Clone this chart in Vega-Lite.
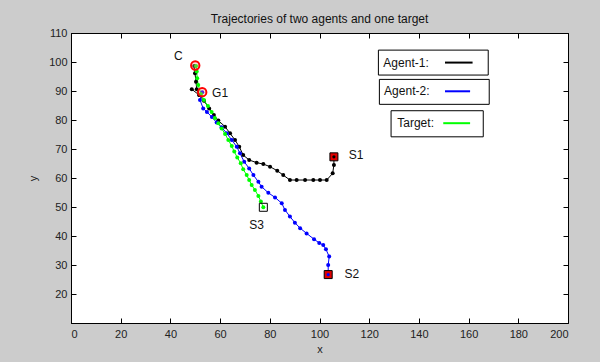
{
  "$schema": "https://vega.github.io/schema/vega-lite/v6.json",
  "width": 497,
  "height": 290,
  "autosize": {"type": "none"},
  "padding": {"left": 71, "top": 33, "right": 32, "bottom": 39},
  "background": "#cccccc",
  "title": {"text": "Trajectories of two agents and one target", "font": "Liberation Sans", "fontSize": 12, "fontWeight": "normal", "color": "#111111", "offset": 1},
  "config": {
    "view": {"fill": "white", "stroke": "black", "strokeWidth": 1},
    "axis": {"grid": false, "domainColor": "black", "tickColor": "black", "labelFont": "Liberation Sans", "labelFontSize": 11, "labelColor": "#222222", "titleFont": "Liberation Sans", "titleFontSize": 11, "titleFontWeight": "normal", "titleColor": "#222222", "tickSize": -5, "labelPadding": 10}
  },
  "datasets": {
    "traj": [
      {"s":"Agent-1","g":"a1","o":0,"x":105.8,"y":67.3},
      {"s":"Agent-1","g":"a1","o":1,"x":105.8,"y":64.5},
      {"s":"Agent-1","g":"a1","o":2,"x":105.3,"y":61.6},
      {"s":"Agent-1","g":"a1","o":3,"x":102.9,"y":59.3},
      {"s":"Agent-1","g":"a1","o":4,"x":100.2,"y":59.3},
      {"s":"Agent-1","g":"a1","o":5,"x":97.5,"y":59.3},
      {"s":"Agent-1","g":"a1","o":6,"x":94.2,"y":59.3},
      {"s":"Agent-1","g":"a1","o":7,"x":90.8,"y":59.3},
      {"s":"Agent-1","g":"a1","o":8,"x":88.1,"y":59.3},
      {"s":"Agent-1","g":"a1","o":9,"x":85.4,"y":61.0},
      {"s":"Agent-1","g":"a1","o":10,"x":83.0,"y":62.5},
      {"s":"Agent-1","g":"a1","o":11,"x":80.1,"y":63.9},
      {"s":"Agent-1","g":"a1","o":12,"x":77.4,"y":64.8},
      {"s":"Agent-1","g":"a1","o":13,"x":74.7,"y":65.3},
      {"s":"Agent-1","g":"a1","o":14,"x":71.7,"y":66.2},
      {"s":"Agent-1","g":"a1","o":15,"x":69.3,"y":67.9},
      {"s":"Agent-1","g":"a1","o":16,"x":67.7,"y":70.8},
      {"s":"Agent-1","g":"a1","o":17,"x":66.0,"y":73.1},
      {"s":"Agent-1","g":"a1","o":18,"x":64.0,"y":75.4},
      {"s":"Agent-1","g":"a1","o":19,"x":62.0,"y":77.7},
      {"s":"Agent-1","g":"a1","o":20,"x":59.3,"y":79.8},
      {"s":"Agent-1","g":"a1","o":21,"x":57.5,"y":81.7},
      {"s":"Agent-1","g":"a1","o":22,"x":55.6,"y":84.0},
      {"s":"Agent-1","g":"a1","o":23,"x":53.5,"y":86.6},
      {"s":"Agent-1","g":"a1","o":24,"x":51.6,"y":88.6},
      {"s":"Agent-1","g":"a1","o":25,"x":50.6,"y":90.6},
      {"s":"Agent-1","g":"a1","o":26,"x":50.3,"y":93.2},
      {"s":"Agent-1","g":"a1","o":27,"x":49.9,"y":96.1},
      {"s":"Agent-1","g":"a1","o":28,"x":49.6,"y":98.6},
      {"s":"Agent-1","g":"a1b","o":0,"x":48.6,"y":90.6},
      {"s":"Agent-1","g":"a1b","o":1,"x":51.6,"y":88.6},
      {"s":"Agent-2","g":"a2","o":0,"x":103.5,"y":26.6},
      {"s":"Agent-2","g":"a2","o":1,"x":103.5,"y":30.0},
      {"s":"Agent-2","g":"a2","o":2,"x":103.9,"y":32.9},
      {"s":"Agent-2","g":"a2","o":3,"x":102.6,"y":35.4},
      {"s":"Agent-2","g":"a2","o":4,"x":101.5,"y":36.9},
      {"s":"Agent-2","g":"a2","o":5,"x":99.9,"y":37.6},
      {"s":"Agent-2","g":"a2","o":6,"x":97.8,"y":38.9},
      {"s":"Agent-2","g":"a2","o":7,"x":94.8,"y":40.9},
      {"s":"Agent-2","g":"a2","o":8,"x":92.2,"y":42.7},
      {"s":"Agent-2","g":"a2","o":9,"x":90.1,"y":44.6},
      {"s":"Agent-2","g":"a2","o":10,"x":88.1,"y":46.7},
      {"s":"Agent-2","g":"a2","o":11,"x":86.1,"y":49.0},
      {"s":"Agent-2","g":"a2","o":12,"x":84.8,"y":51.3},
      {"s":"Agent-2","g":"a2","o":13,"x":82.1,"y":53.3},
      {"s":"Agent-2","g":"a2","o":14,"x":79.4,"y":54.9},
      {"s":"Agent-2","g":"a2","o":15,"x":76.7,"y":57.0},
      {"s":"Agent-2","g":"a2","o":16,"x":75.4,"y":58.7},
      {"s":"Agent-2","g":"a2","o":17,"x":73.4,"y":61.0},
      {"s":"Agent-2","g":"a2","o":18,"x":71.7,"y":63.3},
      {"s":"Agent-2","g":"a2","o":19,"x":69.7,"y":65.6},
      {"s":"Agent-2","g":"a2","o":20,"x":68.0,"y":68.5},
      {"s":"Agent-2","g":"a2","o":21,"x":66.7,"y":70.8},
      {"s":"Agent-2","g":"a2","o":22,"x":64.7,"y":73.1},
      {"s":"Agent-2","g":"a2","o":23,"x":62.7,"y":75.4},
      {"s":"Agent-2","g":"a2","o":24,"x":60.6,"y":77.5},
      {"s":"Agent-2","g":"a2","o":25,"x":58.6,"y":79.1},
      {"s":"Agent-2","g":"a2","o":26,"x":56.7,"y":81.0},
      {"s":"Agent-2","g":"a2","o":27,"x":54.7,"y":82.8},
      {"s":"Agent-2","g":"a2","o":28,"x":53.2,"y":84.0},
      {"s":"Agent-2","g":"a2","o":29,"x":51.9,"y":86.9},
      {"s":"Agent-2","g":"a2","o":30,"x":52.8,"y":89.6},
      {"s":"Target","g":"t","o":0,"x":77.4,"y":49.9},
      {"s":"Target","g":"t","o":1,"x":76.4,"y":51.9},
      {"s":"Target","g":"t","o":2,"x":75.4,"y":53.8},
      {"s":"Target","g":"t","o":3,"x":74.0,"y":55.9},
      {"s":"Target","g":"t","o":4,"x":72.7,"y":57.6},
      {"s":"Target","g":"t","o":5,"x":71.7,"y":59.3},
      {"s":"Target","g":"t","o":6,"x":70.7,"y":61.0},
      {"s":"Target","g":"t","o":7,"x":69.3,"y":63.0},
      {"s":"Target","g":"t","o":8,"x":68.3,"y":65.1},
      {"s":"Target","g":"t","o":9,"x":66.9,"y":67.1},
      {"s":"Target","g":"t","o":10,"x":65.7,"y":69.1},
      {"s":"Target","g":"t","o":11,"x":64.7,"y":71.0},
      {"s":"Target","g":"t","o":12,"x":63.3,"y":73.1},
      {"s":"Target","g":"t","o":13,"x":62.0,"y":75.2},
      {"s":"Target","g":"t","o":14,"x":60.6,"y":77.1},
      {"s":"Target","g":"t","o":15,"x":59.3,"y":78.9},
      {"s":"Target","g":"t","o":16,"x":57.9,"y":80.7},
      {"s":"Target","g":"t","o":17,"x":56.6,"y":82.8},
      {"s":"Target","g":"t","o":18,"x":55.1,"y":84.8},
      {"s":"Target","g":"t","o":19,"x":53.5,"y":86.9},
      {"s":"Target","g":"t","o":20,"x":52.3,"y":89.0},
      {"s":"Target","g":"t","o":21,"x":51.2,"y":92.1},
      {"s":"Target","g":"t","o":22,"x":50.8,"y":94.4},
      {"s":"Target","g":"t","o":23,"x":50.6,"y":96.7},
      {"s":"Target","g":"t","o":24,"x":50.3,"y":98.6}
    ],
    "marks": [
      {"name":"C","kind":"circle","x":50.0,"y":98.8,"lx":43.2,"ly":102.2},
      {"name":"G1","kind":"circle","x":52.8,"y":89.6,"lx":60.0,"ly":89.2},
      {"name":"S1","kind":"start","x":105.8,"y":67.3,"lx":114.7,"ly":67.9},
      {"name":"S2","kind":"start","x":103.5,"y":26.7,"lx":113.0,"ly":26.9},
      {"name":"S3","kind":"target","x":77.4,"y":49.9,"lx":74.7,"ly":43.8}
    ],
    "legend": [
      {"s":"Agent-1","label":"Agent-1:","bx":123.7,"bx2":167.9,"by":104.1,"by2":95.5,"tx":125.7,"ty":99.8,"lx":150.5,"lx2":161.6},
      {"s":"Agent-2","label":"Agent-2:","bx":124.1,"bx2":168.3,"by":94.0,"by2":85.4,"tx":126.0,"ty":89.9,"lx":150.5,"lx2":160.6},
      {"s":"Target","label":"Target:","bx":128.8,"bx2":165.9,"by":83.2,"by2":74.2,"tx":131.3,"ty":78.9,"lx":149.8,"lx2":160.6}
    ]
  },
  "resolve": {"axis": {"x": "independent", "y": "independent"}},
  "layer": [
    {
      "data": {"name": "traj"},
      "mark": {"type": "line", "strokeWidth": 1},
      "encoding": {
        "x": {"field": "x", "type": "quantitative", "scale": {"domain": [0, 200], "nice": false}, "axis": {"orient": "bottom", "values": [0,20,40,60,80,100,120,140,160,180,200], "title": "x", "titlePadding": 4}},
        "y": {"field": "y", "type": "quantitative", "scale": {"domain": [10, 110], "nice": false, "zero": false}, "axis": {"orient": "left", "values": [20,30,40,50,60,70,80,90,100,110], "title": "y", "titlePadding": 10, "labelPadding": 9}},
        "color": {"field": "s", "type": "nominal", "scale": {"domain": ["Agent-1","Agent-2","Target"], "range": ["#000000","#0000ff","#00ff00"]}, "legend": null},
        "detail": {"field": "g"},
        "order": {"field": "o", "type": "quantitative"}
      }
    },
    {
      "data": {"name": "traj"},
      "mark": {"type": "point", "filled": true, "opacity": 1, "size": 16},
      "encoding": {
        "x": {"field": "x", "type": "quantitative", "axis": null},
        "y": {"field": "y", "type": "quantitative", "axis": null},
        "color": {"field": "s", "type": "nominal", "legend": null}
      }
    },
    {
      "data": {"name": "marks"},
      "transform": [{"filter": "datum.kind == 'circle'"}],
      "mark": {"type": "point", "shape": "circle", "size": 70, "stroke": "#ff0000", "strokeWidth": 2, "fill": "#ff9999", "fillOpacity": 0.3, "opacity": 1},
      "encoding": {
        "x": {"field": "x", "type": "quantitative", "axis": null},
        "y": {"field": "y", "type": "quantitative", "axis": null}
      }
    },
    {
      "data": {"name": "marks"},
      "transform": [{"filter": "datum.kind == 'start'"}],
      "mark": {"type": "point", "shape": "square", "size": 64, "stroke": "#000000", "strokeWidth": 1, "fill": "#e00000", "fillOpacity": 1, "opacity": 1},
      "encoding": {
        "x": {"field": "x", "type": "quantitative", "axis": null},
        "y": {"field": "y", "type": "quantitative", "axis": null}
      }
    },
    {
      "data": {"name": "marks"},
      "transform": [{"filter": "datum.kind == 'start'"}],
      "mark": {"type": "point", "shape": "circle", "size": 10, "filled": true, "opacity": 1},
      "encoding": {
        "x": {"field": "x", "type": "quantitative", "axis": null},
        "y": {"field": "y", "type": "quantitative", "axis": null},
        "color": {"field": "name", "type": "nominal", "scale": {"domain": ["S1","S2"], "range": ["#000000","#0000ff"]}, "legend": null}
      }
    },
    {
      "data": {"name": "marks"},
      "transform": [{"filter": "datum.kind == 'target'"}],
      "mark": {"type": "point", "shape": "square", "size": 64, "stroke": "#000000", "strokeWidth": 1, "fill": "white", "fillOpacity": 0, "opacity": 1},
      "encoding": {
        "x": {"field": "x", "type": "quantitative", "axis": null},
        "y": {"field": "y", "type": "quantitative", "axis": null}
      }
    },
    {
      "data": {"name": "marks"},
      "mark": {"type": "text", "font": "Liberation Sans", "fontSize": 12, "color": "#111111", "align": "center", "baseline": "middle"},
      "encoding": {
        "x": {"field": "lx", "type": "quantitative", "axis": null},
        "y": {"field": "ly", "type": "quantitative", "axis": null},
        "text": {"field": "name"}
      }
    },
    {
      "data": {"name": "legend"},
      "mark": {"type": "rect", "fill": "white", "stroke": "black", "strokeWidth": 1},
      "encoding": {
        "x": {"field": "bx", "type": "quantitative", "axis": {"orient": "top", "values": [0,20,40,60,80,100,120,140,160,180,200], "labels": false, "title": null, "domain": false}},
        "x2": {"field": "bx2"},
        "y": {"field": "by", "type": "quantitative", "axis": {"orient": "right", "values": [20,30,40,50,60,70,80,90,100,110], "labels": false, "title": null, "domain": false}},
        "y2": {"field": "by2"}
      }
    },
    {
      "data": {"name": "legend"},
      "mark": {"type": "text", "font": "Liberation Sans", "fontSize": 12, "color": "#111111", "align": "left", "baseline": "middle"},
      "encoding": {
        "x": {"field": "tx", "type": "quantitative", "axis": null},
        "y": {"field": "ty", "type": "quantitative", "axis": null},
        "text": {"field": "label"}
      }
    },
    {
      "data": {"name": "legend"},
      "mark": {"type": "rule", "strokeWidth": 2},
      "encoding": {
        "x": {"field": "lx", "type": "quantitative", "axis": null},
        "x2": {"field": "lx2"},
        "y": {"field": "ty", "type": "quantitative", "axis": null},
        "color": {"field": "s", "type": "nominal", "legend": null}
      }
    }
  ]
}
